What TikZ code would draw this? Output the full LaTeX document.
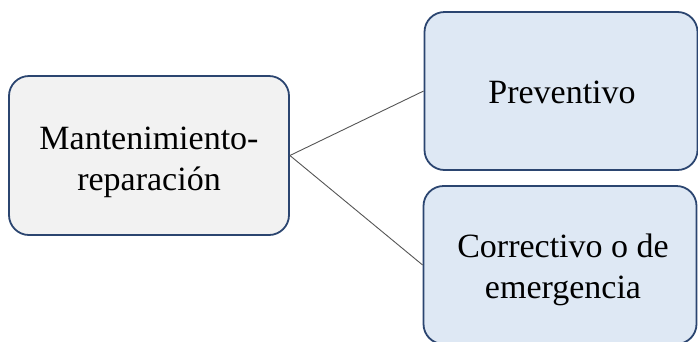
\documentclass[tikz,border=0pt]{standalone}
\usepackage{fontspec}
\setmainfont{Liberation Serif}
\definecolor{edgenavy}{HTML}{2B4570}
\definecolor{greyfill}{HTML}{F2F2F2}
\definecolor{bluefill}{HTML}{DEE8F4}
\definecolor{linkgrey}{HTML}{555555}
\begin{document}
\begin{tikzpicture}[x=1pt,y=-1pt,
  box/.style={draw=edgenavy, line width=1.8pt, rounded corners=20pt,
    inner sep=0pt},
  root/.style={box, fill=greyfill, minimum width=280pt, minimum height=159pt},
  leaf/.style={box, fill=bluefill, minimum width=273pt, minimum height=158pt},
  caption/.style={align=center, inner sep=0pt,
    font=\fontsize{34}{41}\selectfont},
  link/.style={draw=linkgrey, line width=0.9pt}]
  \useasboundingbox (0,0) rectangle (698,341);
  \clip (0,0) rectangle (698,341);
  % boxes
  \node[root] (root) at (149,155.5) {};
  \node[leaf] (prev) at (561,91) {};
  \node[leaf] (corr) at (560,265) {};
  % texts
  \node[caption] (roottext) at (149,162) {Mantenimiento-\\reparación};
  \node[caption] (prevtext) at (562,92) {Preventivo};
  \node[caption] (corrtext) at (563,270) {Correctivo o de\\emergencia};
  % connectors
  \draw[link] (root.east) -- (prev.west);
  \draw[link] (root.east) -- (corr.west);
\end{tikzpicture}
\end{document}
